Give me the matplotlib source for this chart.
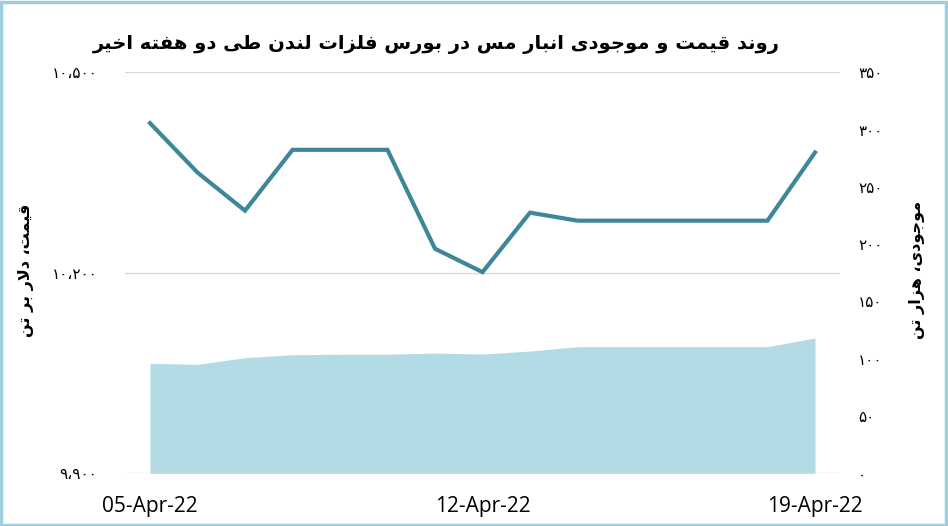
import matplotlib
matplotlib.use("Agg")
import matplotlib.pyplot as plt
from matplotlib.patches import Rectangle

# داده‌ها
dates = ['05-Apr-22', '06-Apr-22', '07-Apr-22', '08-Apr-22', '09-Apr-22',
         '10-Apr-22', '11-Apr-22', '12-Apr-22', '13-Apr-22', '14-Apr-22',
         '15-Apr-22', '16-Apr-22', '17-Apr-22', '18-Apr-22', '19-Apr-22']
price = [10424, 10350, 10293, 10384, 10384, 10384, 10236, 10201, 10290,
         10278, 10278, 10278, 10278, 10278, 10380]
stock = [96.0, 95.1, 100.9, 103.5, 103.9, 103.9, 105.0, 104.1, 106.7,
         110.5, 110.5, 110.5, 110.5, 110.5, 118.1]

price_ticks = [9900, 10200, 10500]
price_labels = ['۹،۹۰۰', '۱۰،۲۰۰', '۱۰،۵۰۰']
stock_ticks = [0, 50, 100, 150, 200, 250, 300, 350]
stock_labels = ['۰', '۵۰', '۱۰۰', '۱۵۰', '۲۰۰', '۲۵۰', '۳۰۰', '۳۵۰']
shown_dates = ['05-Apr-22', '12-Apr-22', '19-Apr-22']

title = 'روند قیمت و موجودی انبار مس در بورس فلزات لندن طی دو هفته اخیر'
left_label = 'قیمت، دلار بر تن'
right_label = 'موجودی، هزار تن'

# شکل‌دهی ساده‌ی حروف فارسی (matplotlib خودش این کار را نمی‌کند)
FORMS = {
    'ا': ('\uFE8D', '\uFE8E'), 'د': ('\uFEA9', '\uFEAA'), 'ر': ('\uFEAD', '\uFEAE'),
    'ز': ('\uFEAF', '\uFEB0'), 'و': ('\uFEED', '\uFEEE'),
    'ب': ('\uFE8F', '\uFE90', '\uFE91', '\uFE92'), 'ت': ('\uFE95', '\uFE96', '\uFE97', '\uFE98'),
    'ج': ('\uFE9D', '\uFE9E', '\uFE9F', '\uFEA0'), 'خ': ('\uFEA5', '\uFEA6', '\uFEA7', '\uFEA8'),
    'س': ('\uFEB1', '\uFEB2', '\uFEB3', '\uFEB4'), 'ط': ('\uFEC1', '\uFEC2', '\uFEC3', '\uFEC4'),
    'ف': ('\uFED1', '\uFED2', '\uFED3', '\uFED4'), 'ق': ('\uFED5', '\uFED6', '\uFED7', '\uFED8'),
    'ل': ('\uFEDD', '\uFEDE', '\uFEDF', '\uFEE0'), 'م': ('\uFEE1', '\uFEE2', '\uFEE3', '\uFEE4'),
    'ن': ('\uFEE5', '\uFEE6', '\uFEE7', '\uFEE8'), 'ه': ('\uFEE9', '\uFEEA', '\uFEEB', '\uFEEC'),
    'ی': ('\uFEEF', '\uFEF0', '\uFEF3', '\uFEF4'),
}


def fa(text):
    res = []
    i = 0
    n = len(text)
    while i < n:
        c = text[i]
        if c not in FORMS:
            res.append(c)
            i += 1
            continue
        prev = text[i - 1] if i > 0 else ''
        prev_j = prev in FORMS and len(FORMS[prev]) == 4
        if c == 'ل' and i + 1 < n and text[i + 1] == 'ا':
            res.append('\uFEFC' if prev_j else '\uFEFB')
            i += 2
            continue
        nxt = text[i + 1] if i + 1 < n else ''
        f = FORMS[c]
        nxt_j = len(f) == 4 and nxt in FORMS
        if prev_j and nxt_j:
            res.append(f[3])
        elif prev_j:
            res.append(f[1])
        elif nxt_j:
            res.append(f[2])
        else:
            res.append(f[0])
        i += 1
    return ''.join(reversed(res))


line_color = '#3e879b'
area_color = '#b3dbe5'
grid_color = '#d9d9d9'

fig = plt.figure(figsize=(9.48, 5.26), dpi=100)
ax = fig.add_axes([125 / 948, 52.7 / 526, 715 / 948, 401 / 526])
ax2 = ax.twinx()

x = list(range(len(dates)))

# مساحت موجودی روی محور راست
ax2.fill_between(x, 0, stock, color=area_color, linewidth=0, zorder=1)
ax2.set_ylim(0, 350)
ax2.set_yticks(stock_ticks)
ax2.set_yticklabels(stock_labels, family='DejaVu Sans', fontsize=11)

# خط قیمت روی محور چپ
ax.set_zorder(ax2.get_zorder() + 1)
ax.patch.set_visible(False)
ax.plot(x, price, color=line_color, linewidth=3, solid_joinstyle='miter', zorder=3)
ax.set_ylim(9900, 10500)
ax.set_yticks(price_ticks)
ax.set_yticklabels(price_labels, family='DejaVu Sans', fontsize=11)
ax.yaxis.grid(True, color=grid_color, linewidth=1)
ax.set_axisbelow(True)

ax.set_xlim(-25 / 47.5, 14 + 25 / 47.5)
ax.set_xticks([dates.index(d) for d in shown_dates])
ax.set_xticklabels(shown_dates, family='Open Sans', fontsize=15)

for a in (ax, ax2):
    for s in a.spines.values():
        s.set_visible(False)
    a.tick_params(length=0)
ax.tick_params(axis='y', pad=20)
ax2.tick_params(axis='y', pad=13)
ax.tick_params(axis='x', pad=16)

fig.text(0.5 * (108 + 765) / 948, 1 - 45 / 526, fa(title), ha='center', va='center',
         family='DejaVu Sans', fontweight='bold', fontsize=14)
fig.text(26 / 948, 1 - 270 / 526, fa(left_label), rotation=90, ha='center', va='center',
         family='DejaVu Sans', fontweight='bold', fontsize=11.5)
fig.text(917 / 948, 1 - 270 / 526, fa(right_label), rotation=90, ha='center', va='center',
         family='DejaVu Sans', fontweight='bold', fontsize=11.5)

fig.patches.append(Rectangle((0.001, 0.002), 0.997, 0.995, transform=fig.transFigure,
                             fill=False, edgecolor='#9fcfdc', linewidth=2.5))

fig.savefig('out.png', dpi=100)
